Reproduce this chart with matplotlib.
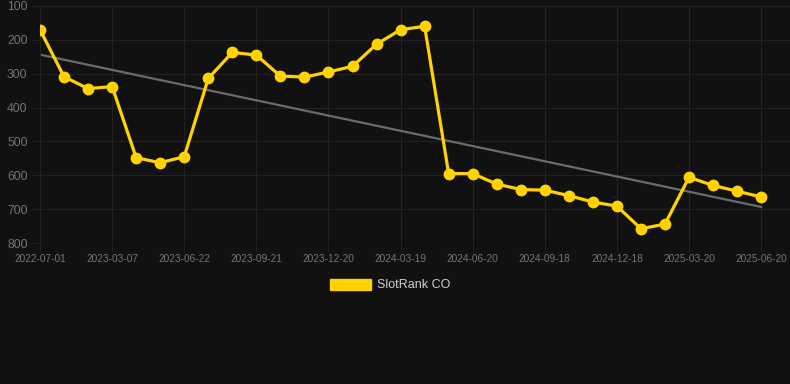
import numpy as np
import matplotlib
matplotlib.use("Agg")
import matplotlib.pyplot as plt

plt.rcParams['font.family'] = ['Liberation Sans', 'DejaVu Sans']

# rank per snapshot (lower is better -> inverted axis)
dates = ["2022-07-01", "2022-10-05", "2023-01-06", "2023-03-07", "2023-04-06", "2023-05-22",
         "2023-06-22", "2023-07-22", "2023-08-21", "2023-09-21", "2023-10-21", "2023-11-20",
         "2023-12-20", "2024-01-19", "2024-02-18", "2024-03-19", "2024-04-19", "2024-05-20",
         "2024-06-20", "2024-07-20", "2024-08-19", "2024-09-18", "2024-10-18", "2024-11-18",
         "2024-12-18", "2025-01-17", "2025-02-17", "2025-03-20", "2025-04-20", "2025-05-20",
         "2025-06-20"]
ranks = [170, 309, 344, 338, 548, 563, 545, 314, 237, 245, 307, 310, 295, 278, 213, 170,
         160, 595, 595, 626, 642, 644, 660, 679, 691, 758, 744, 606, 630, 647, 664]
series_name = "SlotRank CO"
yticks = [100, 200, 300, 400, 500, 600, 700, 800]

BG = "#111111"; GOLD = "#FFD200"; GRID = "#222222"; TXT = "#747474"

x = np.arange(len(dates))
fit = np.polyfit(x, ranks, 1)
trend = np.polyval(fit, x)

fig = plt.figure(figsize=(7.9, 3.84), dpi=100, facecolor=BG)
ax = fig.add_axes([40/790, 1-243/384, 750/790, 237/384], facecolor=BG)

ax.plot(x, trend, color="#6b6b6b", lw=1.6, zorder=2)
ax.plot(x, ranks, color=GOLD, lw=2.3, marker="o", ms=7.5, zorder=3, label=series_name)

ax.set_xlim(0, 31.2)
ax.set_ylim(800, 100)
ax.set_yticks(yticks)
ax.set_xticks(x[::3])
ax.set_xticklabels(dates[::3])
ax.grid(True, color=GRID, lw=0.8)
for s in ax.spines.values():
    s.set_visible(False)
ax.axvline(0, color=GRID, lw=0.8)
ax.tick_params(axis="x", colors=GRID, labelcolor=TXT, labelsize=7.3, length=6, width=0.8, pad=2)
ax.tick_params(axis="y", colors=GRID, labelcolor=TXT, labelsize=8.7, length=6, width=0.8, pad=3)

# legend drawn as a filled box like the reference
from matplotlib.patches import Patch
fig.legend(handles=[Patch(color=GOLD, label=series_name)], loc="center",
           bbox_to_anchor=(390/790, 1-285/384), frameon=False, labelcolor="#d0d0d0",
           fontsize=9, handlelength=3.3, handleheight=1.0, handletextpad=0.5)

fig.savefig("out.png", facecolor=BG)
